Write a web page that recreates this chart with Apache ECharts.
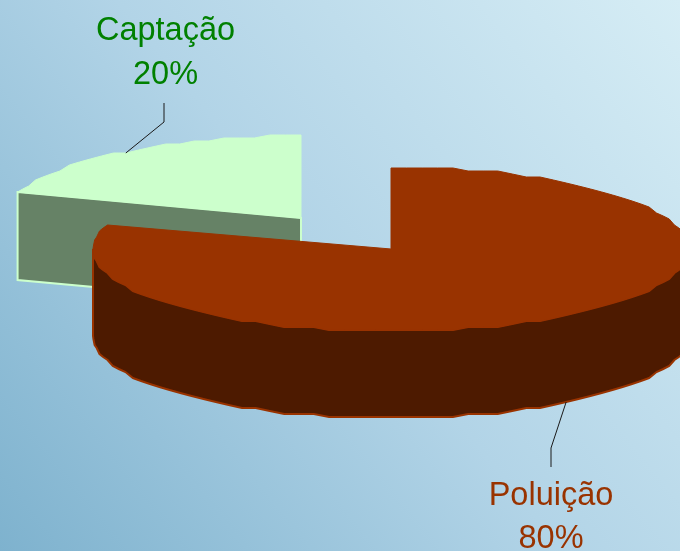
<!DOCTYPE html>
<html>
<head>
<meta charset="utf-8">
<style>
  html, body { margin: 0; padding: 0; }
  #chart { width: 680px; height: 551px; }
</style>
<script src="https://cdn.jsdelivr.net/npm/echarts@6/dist/echarts.min.js"></script>
</head>
<body>
<div id="chart"></div>
<script>
const categories = ['Poluição', 'Captação']
const values = [80, 20]
const percentLabels = ['80%', '20%']

const total = values.reduce((a, b) => a + b, 0)
const RAD = Math.PI / 180

// one look per slice, the 3d tilt is done by hand since pie has no depth
const looks = [
  {
    cx: 391, cy: 249, rx: 298, ry: 82, depth: 87,
    top: '#993300', side: '#4d1a00', edge: '#993300', text: '#993300',
    leader: [[551, 448], [551, 467]], labelX: 551, labelY: [496, 539], onWall: true, z: 2,
  },
  {
    cx: 301, cy: 218, rx: 298, ry: 82, depth: 88,
    top: '#ccffcc', side: '#668266', edge: '#ccffcc', text: '#008000',
    leader: [[164, 122], [164, 103]], labelX: 165.5, labelY: [31, 75], onWall: false, z: 1,
  },
]

// angle is clockwise from 12 o'clock, y snapped a bit like the old stepped outline
const ellipsePoint = (look, deg, dy = 0) => {
  const x = look.cx + look.rx * Math.sin(deg * RAD)
  const y = look.cy - look.ry * Math.cos(deg * RAD)
  return [x, Math.round(y / 3) * 3 + dy]
}

const arcPoints = (look, from, to, dy = 0) => {
  const pts = []
  for (let a = from; a < to; a += 3) {
    pts.push(ellipsePoint(look, a, dy))
  }
  pts.push(ellipsePoint(look, to, dy))
  return pts
}

const buildSlice = (index) => {
  const look = looks[index]
  let start = 0
  for (let i = 0; i < index; i++) {
    start += values[i] / total * 360
  }
  const end = start + values[index] / total * 360
  const mid = (start + end) / 2
  const children = []
  const apex = [look.cx, look.cy]

  // outer wall, only the front half of the ellipse can be seen
  const wallFrom = Math.max(start, 90)
  const wallTo = Math.min(end, 270)
  if (wallFrom < wallTo) {
    const upper = arcPoints(look, wallFrom, wallTo)
    const lower = arcPoints(look, wallFrom, wallTo, look.depth).reverse()
    children.push({
      type: 'polygon',
      shape: {points: upper.concat(lower)},
      style: {fill: look.side, stroke: look.edge, lineWidth: 2},
    })
  }

  // cut face on the left of the slice, faces the viewer when it ends past 270
  if (start > 180 && start < 360) {
    const p = ellipsePoint(look, start)
    children.push({
      type: 'polygon',
      shape: {
        points: [p, apex, [apex[0], apex[1] + look.depth], [p[0], p[1] + look.depth]],
      },
      style: {fill: look.side, stroke: look.edge, lineWidth: 2},
    })
  }

  children.push({
    type: 'polygon',
    shape: {points: [apex].concat(arcPoints(look, start, end))},
    style: {fill: look.top, stroke: look.edge, lineWidth: 1, lineJoin: 'round'},
  })

  // leader goes from the middle of the arc to just under/over the label
  const anchor = ellipsePoint(look, mid, look.onWall ? look.depth : 0)
  children.push({
    type: 'polyline',
    shape: {points: [anchor].concat(look.leader)},
    style: {fill: null, stroke: '#1a1a1a', lineWidth: 1},
  })

  const lines = [categories[index], percentLabels[index]]
  lines.forEach((line, i) => {
    children.push({
      type: 'text',
      style: {
        x: look.labelX,
        y: look.labelY[i],
        text: line,
        fill: look.text,
        font: '32.5px "Liberation Sans", Arial, sans-serif',
        textAlign: 'center',
        textVerticalAlign: 'middle',
      },
    })
  })

  return {type: 'group', children}
}

const chart = echarts.init(document.getElementById('chart'), null, {renderer: 'canvas'})

chart.setOption({
  animation: false,
  backgroundColor: {
    type: 'linear',
    x: 0,
    y: 1,
    x2: 1,
    y2: 0,
    colorStops: [
      {offset: 0, color: '#7eb2ce'},
      {offset: 0.5, color: '#b2d4e7'},
      {offset: 1, color: '#d6edf5'},
    ],
  },
  tooltip: {show: false},
  series: categories.map((name, index) => ({
    type: 'custom',
    name,
    coordinateSystem: 'none',
    silent: true,
    z: looks[index].z,
    data: [values[index]],
    renderItem: () => buildSlice(index),
  })),
})
</script>
</body>
</html>
